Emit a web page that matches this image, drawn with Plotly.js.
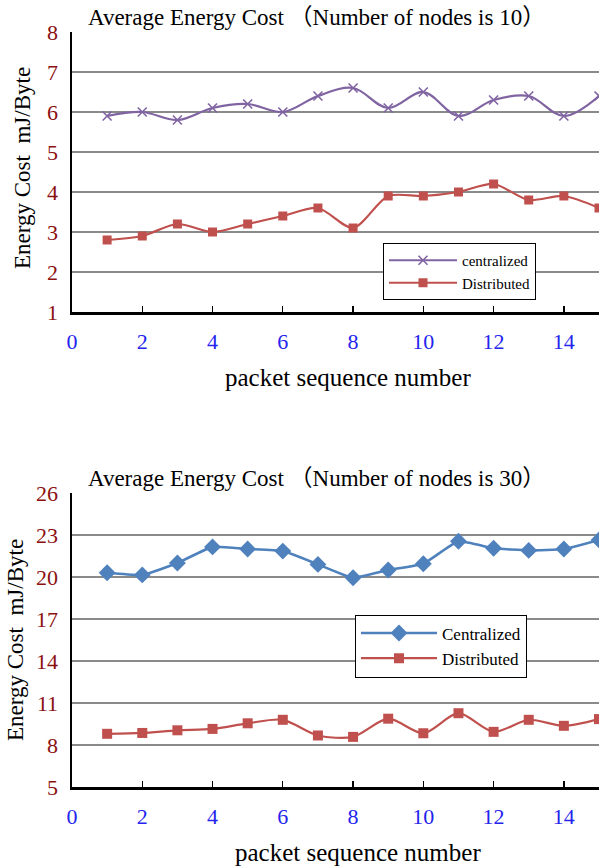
<!DOCTYPE html>
<html><head><meta charset="utf-8">
<script src="https://cdn.plot.ly/plotly-3.0.1.min.js"></script>
<style>html,body{margin:0;padding:0;background:#fff;}#chart{width:599px;height:868px;}</style>
</head><body><div id="chart"></div>
<script>
const packets = [1,2,3,4,5,6,7,8,9,10,11,12,13,14,15];
const central10 = [5.9,6.0,5.8,6.1,6.2,6.0,6.4,6.6,6.1,6.5,5.9,6.3,6.4,5.9,6.4];
const distrib10 = [2.8,2.9,3.2,3.0,3.2,3.4,3.6,3.1,3.9,3.9,4.0,4.2,3.8,3.9,3.6];
const central30 = [20.3,20.15,21.0,22.15,22.0,21.85,20.9,19.95,20.5,20.95,22.55,22.05,21.9,22.0,22.65];
const distrib30 = [8.8,8.86,9.05,9.15,9.55,9.8,8.68,8.58,9.88,8.84,10.27,8.94,9.8,9.37,9.85];
const xTicks = [0,2,4,6,8,10,12,14];
const yTicks10 = [1,2,3,4,5,6,7,8];
const yTicks30 = [5,8,11,14,17,20,23,26];
const title10 = 'Average Energy Cost （Number of nodes is 10）';
const title30 = 'Average Energy Cost （Number of nodes is 30）';
const xTitle = 'packet sequence number';
const yTitle = 'Energy Cost  mJ/Byte';

const serif = "'Liberation Serif', serif";
const serifCJK = "'Liberation Serif', 'Noto Sans CJK SC', serif";
const W = 599, H = 868;
const purple = '#8064A2', red = '#C0504D', blue = '#4F81BD';

const traces = [
  {x: packets, y: central10, name: 'centralized', type: 'scatter', mode: 'lines+markers',
   line: {color: purple, width: 2.2, shape: 'spline', smoothing: 1},
   marker: {symbol: 'x-thin', size: 9, line: {color: purple, width: 1.6}, color: purple},
   xaxis: 'x', yaxis: 'y', legend: 'legend'},
  {x: packets, y: distrib10, name: 'Distributed', type: 'scatter', mode: 'lines+markers',
   line: {color: red, width: 2.2, shape: 'spline', smoothing: 0.8},
   marker: {symbol: 'square', size: 9, color: red},
   xaxis: 'x', yaxis: 'y', legend: 'legend'},
  {x: packets, y: central30, name: 'Centralized', type: 'scatter', mode: 'lines+markers',
   line: {color: blue, width: 2.6, shape: 'spline', smoothing: 0.4},
   marker: {symbol: 'diamond', size: 13, color: blue},
   xaxis: 'x2', yaxis: 'y2', legend: 'legend2'},
  {x: packets, y: distrib30, name: 'Distributed', type: 'scatter', mode: 'lines+markers',
   line: {color: red, width: 2.2, shape: 'spline', smoothing: 0.8},
   marker: {symbol: 'square', size: 10, color: red},
   xaxis: 'x2', yaxis: 'y2', legend: 'legend2'}
];

function xa(anchor){
  return {domain: [72/W, 1], range: [0, 15], anchor: anchor,
    tickvals: xTicks, ticktext: xTicks.map(String),
    ticks: 'inside', ticklen: 6, tickwidth: 1.3, tickcolor: '#000',
    showline: true, linecolor: '#000', linewidth: 2.5,
    showgrid: false, zeroline: false, automargin: false,
    ticklabelstandoff: 8,
    tickfont: {family: serif, size: 22, color: '#2424EE'}};
}
function ya(anchor, dom, range, ticks){
  return {domain: dom, range: range, anchor: anchor,
    tickvals: ticks, ticktext: ticks.map(String),
    ticks: '', showline: true, linecolor: '#000', linewidth: 2.5,
    showgrid: true, gridcolor: '#8A8A8A', gridwidth: 2,
    zeroline: false, automargin: false, ticklabelstandoff: 7,
    tickfont: {family: serif, size: 22, color: '#8B1010'}};
}

const layout = {
  width: W, height: H,
  margin: {l: 0, r: 0, t: 0, b: 0},
  paper_bgcolor: '#fff', plot_bgcolor: '#fff',
  showlegend: true,
  xaxis: xa('y'),
  yaxis: ya('x', [1-312/H, 1-32/H], [1, 8], yTicks10),
  xaxis2: xa('y2'),
  yaxis2: ya('x2', [1-787/H, 1-493/H], [5, 26], yTicks30),
  legend: {x: 383/W, y: 1-243/H, xanchor: 'left', yanchor: 'top',
    bgcolor: '#fff', bordercolor: '#000', borderwidth: 1,
    font: {family: serif, size: 15, color: '#000'}, itemwidth: 68},
  legend2: {x: 355/W, y: 1-646/H, xanchor: 'left', yanchor: 'middle',
    bgcolor: '#fff', bordercolor: '#000', borderwidth: 1,
    font: {family: serif, size: 17, color: '#000'}, itemwidth: 76},
  annotations: [
    {text: title10, x: 86/W, y: 1-18/H, xref: 'paper', yref: 'paper', xanchor: 'left', yanchor: 'middle',
     showarrow: false, font: {family: serifCJK, size: 23, color: '#000'}},
    {text: title30, x: 86/W, y: 1-478/H, xref: 'paper', yref: 'paper', xanchor: 'left', yanchor: 'middle',
     showarrow: false, font: {family: serifCJK, size: 23, color: '#000'}},
    {text: xTitle, x: 348/W, y: 1-377/H, xref: 'paper', yref: 'paper', xanchor: 'center', yanchor: 'middle',
     showarrow: false, font: {family: serif, size: 25, color: '#000'}},
    {text: xTitle, x: 358/W, y: 1-852/H, xref: 'paper', yref: 'paper', xanchor: 'center', yanchor: 'middle',
     showarrow: false, font: {family: serif, size: 25, color: '#000'}},
    {text: yTitle, x: 22/W, y: 1-168/H, xref: 'paper', yref: 'paper', xanchor: 'center', yanchor: 'middle',
     textangle: -90, showarrow: false, font: {family: serif, size: 23, color: '#000'}},
    {text: yTitle, x: 15/W, y: 1-640/H, xref: 'paper', yref: 'paper', xanchor: 'center', yanchor: 'middle',
     textangle: -90, showarrow: false, font: {family: serif, size: 23, color: '#000'}}
  ]
};

Plotly.newPlot('chart', traces, layout, {displayModeBar: false, staticPlot: true});
</script></body></html>
